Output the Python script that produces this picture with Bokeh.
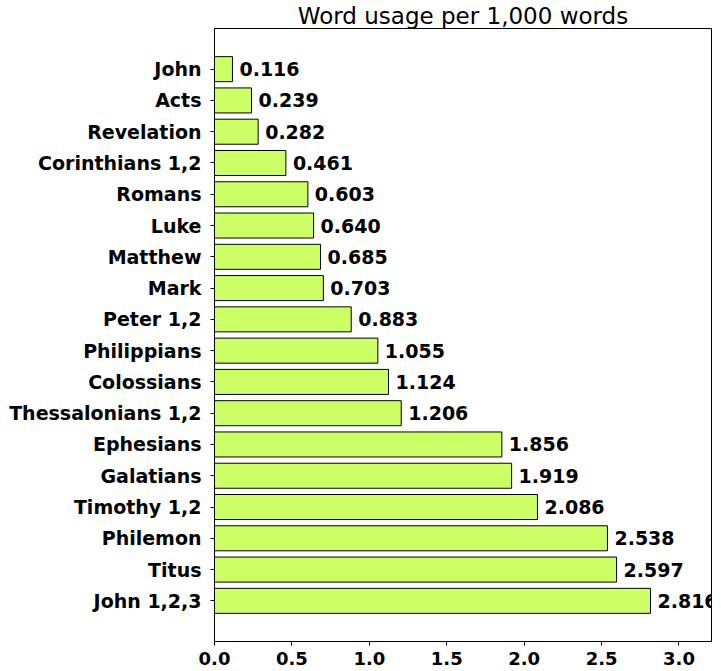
from bokeh.core.properties import value
from bokeh.embed import file_html
from bokeh.models import (ColumnDataSource, FactorRange, Range1d, FixedTicker,
                          PrintfTickFormatter, LabelSet)
from bokeh.plotting import figure
from bokeh.resources import INLINE

# top to bottom as in the picture
books = ["John", "Acts", "Revelation", "Corinthians 1,2", "Romans", "Luke",
         "Matthew", "Mark", "Peter 1,2", "Philippians", "Colossians",
         "Thessalonians 1,2", "Ephesians", "Galatians", "Timothy 1,2",
         "Philemon", "Titus", "John 1,2,3"]
usage = [0.116, 0.239, 0.282, 0.461, 0.603, 0.640, 0.685, 0.703, 0.883,
         1.055, 1.124, 1.206, 1.856, 1.919, 2.086, 2.538, 2.597, 2.816]
x_ticks = [0.0, 0.5, 1.0, 1.5, 2.0, 2.5, 3.0]

FONT = "DejaVu Sans"

source = ColumnDataSource(dict(
    book=books,
    usage=usage,
    label=["%.3f" % v for v in usage],
))

# first factor is drawn at the bottom, padding is per side
y_range = FactorRange(factors=books[::-1], range_padding=0.8,
                      range_padding_units="absolute")

p = figure(width=721, height=671,
           y_range=y_range,
           x_range=Range1d(0, 3.21),
           title="Word usage per 1,000 words",
           output_backend="svg",
           toolbar_location=None,
           min_border_left=214, min_border_right=10,
           min_border_top=0, min_border_bottom=30)

p.title.align = "center"
p.title.text_font = FONT
p.title.text_font_style = "normal"
p.title.text_font_size = "23px"
p.title.text_color = "black"
p.title.standoff = 0

p.hbar(y="book", right="usage", left=0, height=0.8, source=source,
       fill_color="#ccff66", line_color="black", line_width=1)

labels = LabelSet(x="usage", y="book", text="label", source=source,
                  x_offset=7, text_baseline="middle", text_align="left",
                  text_font=value(FONT), text_font_style="bold",
                  text_font_size="19px", text_color="black")
p.add_layout(labels)

p.xgrid.visible = False
p.ygrid.visible = False
p.outline_line_color = "black"
p.outline_line_width = 1

p.xaxis.ticker = FixedTicker(ticks=x_ticks)
p.xaxis.formatter = PrintfTickFormatter(format="%.1f")

for ax in (p.xaxis, p.yaxis):
    ax.major_label_text_font = FONT
    ax.major_label_text_font_style = "bold"
    ax.major_label_text_color = "black"
    ax.axis_line_color = "black"
    ax.major_tick_line_color = "black"
    ax.major_tick_in = 0
    ax.major_tick_out = 4
    ax.minor_tick_line_color = None

p.xaxis.major_label_text_font_size = "18px"
p.yaxis.major_label_text_font_size = "19px"
p.xaxis.major_label_standoff = 6
p.yaxis.major_label_standoff = 9

open("out.html", "w").write(file_html(p, INLINE))
